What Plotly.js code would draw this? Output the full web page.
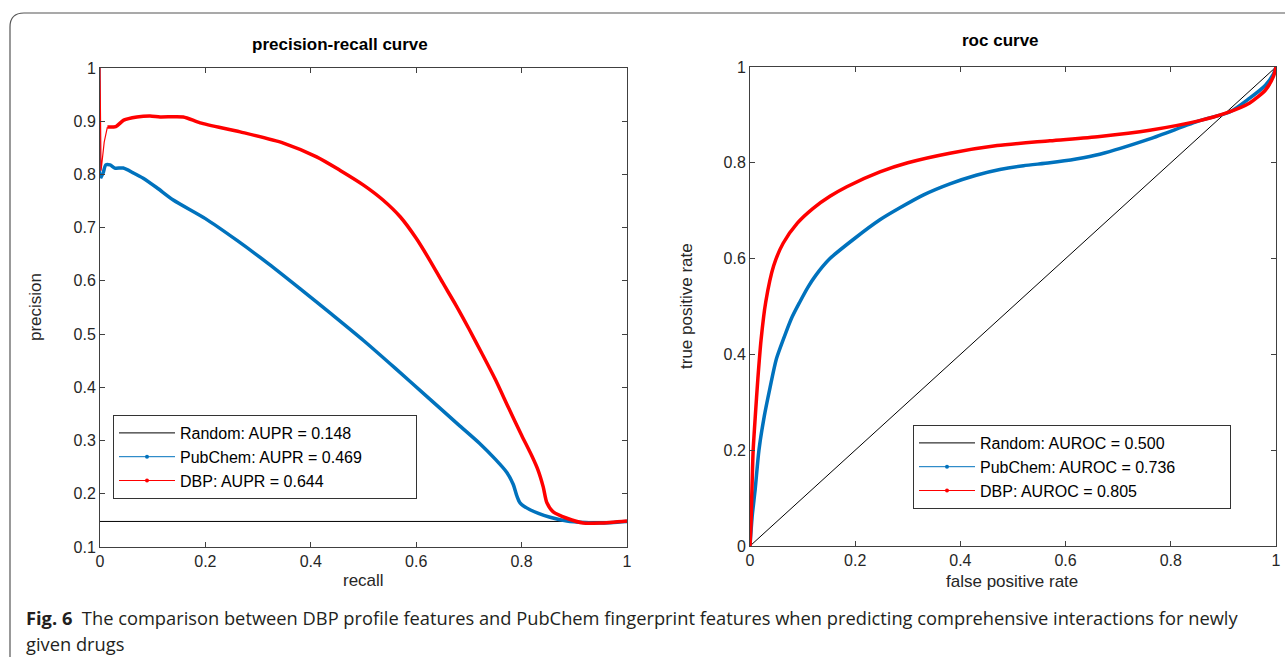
<!DOCTYPE html>
<html>
<head>
<meta charset="utf-8">
<script src="https://cdn.plot.ly/plotly-3.0.1.min.js"></script>
<style>html,body{margin:0;padding:0;background:#fff;}#chart{width:1285px;height:657px;}</style>
</head>
<body>
<div id="chart"></div>
<script>
// ---- Precision-recall data ----
const prRandomRecall = [0, 1];
const prRandomPrecision = [0.148, 0.148];

const prPubChemRecall = [0, 0.001, 0.006, 0.011, 0.019, 0.028, 0.044, 0.063, 0.082, 0.108, 0.139, 0.2, 0.26, 0.32, 0.38, 0.44, 0.5, 0.56, 0.62, 0.68, 0.72, 0.75, 0.772, 0.784, 0.791, 0.797, 0.816, 0.854, 0.886, 0.92, 0.95, 1.0];
const prPubChemPrecision = [1, 0.793, 0.803, 0.818, 0.818, 0.812, 0.812, 0.803, 0.793, 0.775, 0.752, 0.717, 0.676, 0.632, 0.585, 0.537, 0.488, 0.436, 0.383, 0.33, 0.295, 0.265, 0.24, 0.218, 0.196, 0.183, 0.17, 0.156, 0.149, 0.146, 0.145, 0.148];

const prDBPRecall = [0, 0.002, 0.008, 0.011, 0.014, 0.03, 0.045, 0.07, 0.095, 0.114, 0.158, 0.19, 0.266, 0.348, 0.411, 0.455, 0.5, 0.537, 0.57, 0.6, 0.625, 0.65, 0.675, 0.7, 0.725, 0.75, 0.775, 0.8, 0.82, 0.831, 0.841, 0.848, 0.860, 0.886, 0.917, 0.949, 1.0];
const prDBPPrecision = [1, 0.807, 0.861, 0.878, 0.889, 0.890, 0.902, 0.908, 0.910, 0.908, 0.908, 0.897, 0.880, 0.859, 0.833, 0.808, 0.78, 0.752, 0.72, 0.68, 0.64, 0.597, 0.555, 0.51, 0.463, 0.415, 0.362, 0.31, 0.27, 0.245, 0.213, 0.183, 0.166, 0.154, 0.145, 0.145, 0.149];

// ---- ROC data ----
const rocRandomFpr = [0, 1];
const rocRandomTpr = [0, 1];

const rocPubChemFpr = [0, 0.004, 0.01, 0.017, 0.027, 0.038, 0.05, 0.068, 0.08, 0.095, 0.11, 0.125, 0.152, 0.2, 0.247, 0.285, 0.33, 0.38, 0.43, 0.475, 0.52, 0.57, 0.62, 0.665, 0.76, 0.855, 0.912, 0.95, 0.98, 0.995, 1];
const rocPubChemTpr = [0, 0.06, 0.12, 0.2, 0.27, 0.33, 0.39, 0.445, 0.478, 0.51, 0.54, 0.565, 0.6, 0.643, 0.681, 0.706, 0.733, 0.756, 0.774, 0.786, 0.794, 0.80, 0.808, 0.818, 0.85, 0.888, 0.906, 0.935, 0.962, 0.985, 1];

const rocDBPFpr = [0, 0.002, 0.004, 0.006, 0.01, 0.015, 0.021, 0.03, 0.045, 0.063, 0.09, 0.12, 0.152, 0.184, 0.247, 0.3, 0.38, 0.47, 0.57, 0.665, 0.76, 0.855, 0.903, 0.95, 0.98, 0.995, 1];
const rocDBPTpr = [0, 0.05, 0.13, 0.2, 0.27, 0.35, 0.43, 0.51, 0.585, 0.632, 0.674, 0.705, 0.73, 0.75, 0.781, 0.80, 0.82, 0.836, 0.846, 0.855, 0.868, 0.888, 0.903, 0.925, 0.952, 0.98, 1];

// ---- labels ----
const prLegendNames = ["Random: AUPR = 0.148", "PubChem: AUPR = 0.469", "DBP: AUPR = 0.644"];
const rocLegendNames = ["Random: AUROC = 0.500", "PubChem: AUROC = 0.736", "DBP: AUROC = 0.805"];
const prXTicks = [0, 0.2, 0.4, 0.6, 0.8, 1];
const prXTickText = ["0", "0.2", "0.4", "0.6", "0.8", "1"];
const prYTicks = [0.1, 0.2, 0.3, 0.4, 0.5, 0.6, 0.7, 0.8, 0.9, 1];
const prYTickText = ["0.1", "0.2", "0.3", "0.4", "0.5", "0.6", "0.7", "0.8", "0.9", "1"];
const rocXTicks = [0, 0.2, 0.4, 0.6, 0.8, 1];
const rocXTickText = ["0", "0.2", "0.4", "0.6", "0.8", "1"];
const rocYTicks = [0, 0.2, 0.4, 0.6, 0.8, 1];
const rocYTickText = ["0", "0.2", "0.4", "0.6", "0.8", "1"];

const BLUE = "#0072bd", RED = "#ff0000", BLACK = "#000000";
const W = 1285, H = 657;
const px = v => v / W;
const py = v => 1 - v / H;
const PAD = "\u00a0".repeat(11);

const traces = [];
function line(x, y, xa, ya, color, width, shape) {
  traces.push({x: x, y: y, xaxis: xa, yaxis: ya, type: "scatter", mode: "lines",
    line: {color: color, width: width, shape: shape || "linear", smoothing: 0.7},
    showlegend: false, hoverinfo: "skip", cliponaxis: true});
}
function legendItems(names, xa, ya, legendId) {
  const cols = [BLACK, BLUE, RED];
  for (let i = 0; i < 3; i++) {
    traces.push({x: [null], y: [null], xaxis: xa, yaxis: ya, type: "scatter",
      mode: i === 0 ? "lines" : "lines+markers", name: names[i] + PAD, legend: legendId,
      line: {color: cols[i], width: 1}, marker: {color: cols[i], size: 4}, showlegend: true});
  }
}

// PR panel
line(prRandomRecall, prRandomPrecision, "x", "y", BLACK, 1);
line(prPubChemRecall.slice(0, 2), prPubChemPrecision.slice(0, 2), "x", "y", BLUE, 1.2);
line(prPubChemRecall.slice(1), prPubChemPrecision.slice(1), "x", "y", BLUE, 3.5, "spline");
line(prDBPRecall.slice(0, 5), prDBPPrecision.slice(0, 5), "x", "y", RED, 1.2);
line(prDBPRecall.slice(4), prDBPPrecision.slice(4), "x", "y", RED, 3.5, "spline");
legendItems(prLegendNames, "x", "y", "legend");

// ROC panel
line(rocRandomFpr, rocRandomTpr, "x2", "y2", BLACK, 1);
line(rocPubChemFpr, rocPubChemTpr, "x2", "y2", BLUE, 3.5, "spline");
line(rocDBPFpr, rocDBPTpr, "x2", "y2", RED, 3.5, "spline");
legendItems(rocLegendNames, "x2", "y2", "legend2");

const FONT = "Liberation Sans, Arial, sans-serif";
const CAPFONT = "Open Sans, Noto Sans, sans-serif";
const axisCommon = {
  showline: true, linecolor: "#404040", linewidth: 1, mirror: "ticks",
  ticks: "inside", ticklen: 5, tickcolor: "#404040", showgrid: false, zeroline: false,
  tickfont: {family: FONT, size: 16, color: "#262626"},
  tickmode: "array", fixedrange: true
};

const legendCommon = {
  bgcolor: "#ffffff", bordercolor: "#333333", borderwidth: 1,
  font: {family: FONT, size: 16, color: "#000"},
  xanchor: "left", yanchor: "top", itemwidth: 56, tracegroupgap: 0
};

const ann = (text, x, y, size, extra) => Object.assign({text: text, xref: "paper", yref: "paper", x: x, y: y,
  showarrow: false, font: {family: FONT, size: size, color: "#262626"}, xanchor: "center", yanchor: "middle"}, extra || {});

const layout = {
  width: W, height: H,
  margin: {l: 0, r: 0, t: 0, b: 0},
  paper_bgcolor: "#ffffff", plot_bgcolor: "#ffffff",
  showlegend: true,
  xaxis: Object.assign({}, axisCommon, {domain: [px(100), px(627)], range: [0, 1], tickvals: prXTicks, ticktext: prXTickText, anchor: "y"}),
  yaxis: Object.assign({}, axisCommon, {domain: [py(547), py(68)], range: [0.1, 1], tickvals: prYTicks, ticktext: prYTickText, anchor: "x"}),
  xaxis2: Object.assign({}, axisCommon, {domain: [px(750), px(1276)], range: [0, 1], tickvals: rocXTicks, ticktext: rocXTickText, anchor: "y2"}),
  yaxis2: Object.assign({}, axisCommon, {domain: [py(546), py(67)], range: [0, 1], tickvals: rocYTicks, ticktext: rocYTickText, anchor: "x2"}),
  legend: Object.assign({}, legendCommon, {x: px(113), y: py(415)}),
  legend2: Object.assign({}, legendCommon, {x: px(913), y: py(425)}),
  shapes: [
    {type: "path", xref: "paper", yref: "paper",
     path: `M ${px(10)},${py(700)} L ${px(10)},${py(27)} Q ${px(10)},${py(13)} ${px(24)},${py(13)} L ${px(1300)},${py(13)}`,
     line: {color: "#555555", width: 1.2}}
  ],
  annotations: [
    ann("<b>precision-recall curve</b>", px(340), py(44), 17, {font: {family: FONT, size: 17, color: "#000"}}),
    ann("<b>roc curve</b>", px(1000), py(40), 17, {font: {family: FONT, size: 17, color: "#000"}}),
    ann("recall", px(363), py(580), 17),
    ann("precision", px(36), py(307), 17, {textangle: -90}),
    ann("false positive rate", px(1012), py(581), 17),
    ann("true positive rate", px(686), py(306), 17, {textangle: -90}),
    ann("<b>Fig. 6</b>  The comparison between DBP profile features and PubChem fingerprint features when predicting comprehensive interactions for newly",
        px(24), py(617), 18.3, {xanchor: "left", font: {family: CAPFONT, size: 18.3, color: "#231f20"}}),
    ann("given drugs", px(24), py(643), 18.3, {xanchor: "left", font: {family: CAPFONT, size: 18.3, color: "#231f20"}})
  ]
};

Plotly.newPlot("chart", traces, layout, {staticPlot: true, displayModeBar: false});
</script>
</body>
</html>
